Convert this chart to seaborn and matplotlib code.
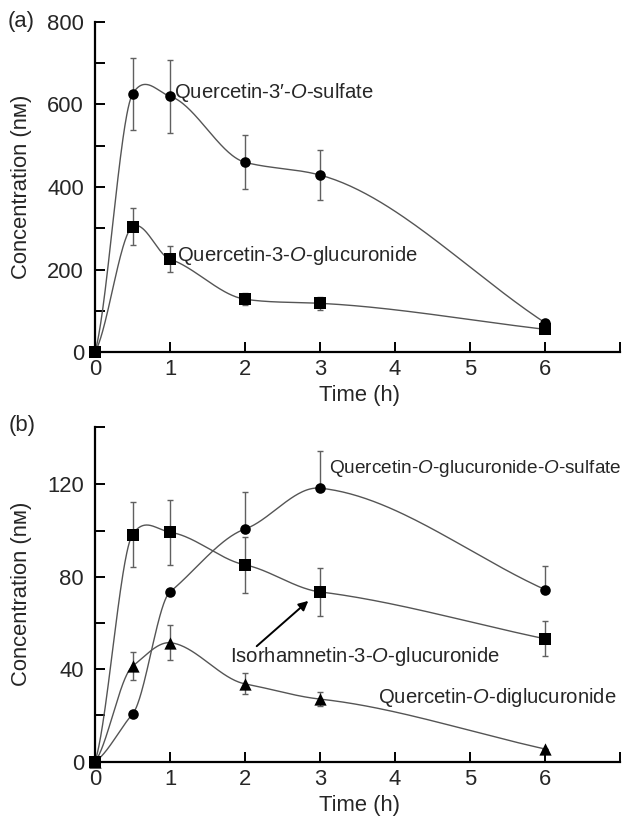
import numpy as np
import pandas as pd
import matplotlib
matplotlib.use("Agg")
import matplotlib.pyplot as plt
import seaborn as sns

# panel (a)
time_a = [0, 0.5, 1, 2, 3, 6]
sulfate = [0, 625, 620, 460, 429, 71]
sulfate_err = [0, 88, 88, 65, 61, 0]
glucuronide = [0, 304, 225, 128, 118, 55]
glucuronide_err = [0, 44, 32, 15, 15, 5]

# panel (b)
time_b = [0, 0.5, 1, 2, 3, 6]
gluc_sulf = [0, 20.6, 73.5, 100.7, 118.4, 74.5]
gluc_sulf_err_up = [0, 0, 0, 16, 16, 10]
isorham = [0, 98.3, 99.3, 85.2, 73.5, 53.2]
isorham_err = [0, 14, 14, 12, 10.5, 7.5]
digluc = [0, 41.3, 51.5, 33.7, 27.1, 5.5]
digluc_err = [0, 6, 7.5, 4.5, 3, 0]

x_ticks = [0, 1, 2, 3, 4, 5, 6, 7]
x_labels = ["0", "1", "2", "3", "4", "5", "6", ""]

sns.set_style("ticks")
plt.rcParams["font.family"] = ["Liberation Sans", "DejaVu Sans"]
plt.rcParams["mathtext.fontset"] = "custom"
plt.rcParams["mathtext.rm"] = "Liberation Sans"
plt.rcParams["mathtext.it"] = "Liberation Sans:italic"

FS = 15.8
FS_NOTE = 14.6
LINE = "#555555"


def smooth(x, y, tension=0.5, n=60):
    # cardinal spline through the measured points, for the connecting curve
    x = np.asarray(x, float)
    y = np.asarray(y, float)
    m = np.zeros_like(y)
    m[1:-1] = (1 - tension) * (y[2:] - y[:-2]) / (x[2:] - x[:-2])
    m[0] = (1 - tension) * (y[1] - y[0]) / (x[1] - x[0])
    m[-1] = (y[-1] - y[-2]) / (x[-1] - x[-2])
    xs, ys = [], []
    for i in range(len(x) - 1):
        h = x[i + 1] - x[i]
        t = np.linspace(0, 1, n)
        h00 = 2 * t**3 - 3 * t**2 + 1
        h10 = t**3 - 2 * t**2 + t
        h01 = -2 * t**3 + 3 * t**2
        h11 = t**3 - t**2
        xs.append(x[i] + t * h)
        ys.append(h00 * y[i] + h10 * h * m[i] + h01 * y[i + 1] + h11 * h * m[i + 1])
    return pd.DataFrame({"x": np.concatenate(xs), "y": np.concatenate(ys)})


def series(ax, x, y, yerr, marker, size):
    curve = smooth(x, y)
    sns.lineplot(data=curve, x="x", y="y", ax=ax, color=LINE, lw=1.0,
                 sort=False, estimator=None)
    ax.errorbar(x, y, yerr=yerr, fmt="none", ecolor="#606060", elinewidth=1.0,
                capsize=2.5, capthick=1.0, zorder=3)
    sns.scatterplot(x=x, y=y, ax=ax, marker=marker, s=size, color="black",
                    edgecolor="black", linewidth=0, zorder=4, clip_on=False)


def style(ax, ymax, major, minor):
    ax.set_xlim(0, 7)
    ax.set_ylim(0, ymax)
    ax.set_xticks(x_ticks)
    ax.set_xticklabels(x_labels)
    ax.set_yticks(major)
    ax.set_yticks(minor, minor=True)
    ax.tick_params(axis="both", which="both", direction="in", width=1.4,
                   length=7, labelsize=FS, color="black")
    ax.tick_params(axis="y", pad=8)
    ax.tick_params(axis="x", pad=5)
    sns.despine(ax=ax)
    for s in ["left", "bottom"]:
        ax.spines[s].set_linewidth(1.6)
        ax.spines[s].set_color("black")
    ax.set_xlabel("Time (h)", fontsize=FS)
    ax.set_ylabel("Concentration (nᴍ)", fontsize=FS)
    ax.xaxis.set_label_coords(0.503, -0.1)
    ax.yaxis.set_label_coords(-0.12, 0.5)


fig = plt.figure(figsize=(6.36, 8.17), dpi=100)
ax_a = fig.add_axes([95 / 636, 1 - 352 / 817, 525 / 636, 330 / 817])
ax_b = fig.add_axes([95 / 636, 1 - 761.7 / 817, 525 / 636, 335 / 817])

series(ax_a, time_a, sulfate, sulfate_err, "o", 58)
series(ax_a, time_a, glucuronide, glucuronide_err, "s", 64)
style(ax_a, 800, [0, 200, 400, 600, 800], [100, 300, 500, 700])
ax_a.text(1.05, 628, r"Quercetin-3′-$\mathit{O}$-sulfate", fontsize=FS_NOTE, va="center")
ax_a.text(1.09, 235, r"Quercetin-3-$\mathit{O}$-glucuronide", fontsize=FS_NOTE, va="center")

series(ax_b, time_b, gluc_sulf, [[0] * 6, gluc_sulf_err_up], "o", 58)
series(ax_b, time_b, isorham, isorham_err, "s", 64)
series(ax_b, time_b, digluc, digluc_err, "^", 78)
style(ax_b, 145, [0, 40, 80, 120], [20, 60, 100, 145])
ax_b.text(3.12, 126.8, r"Quercetin-$\mathit{O}$-glucuronide-$\mathit{O}$-sulfate",
          fontsize=13.7, va="center")
ax_b.text(1.8, 45.7, r"Isorhamnetin-3-$\mathit{O}$-glucuronide", fontsize=FS_NOTE, va="center")
ax_b.text(3.78, 27.6, r"Quercetin-$\mathit{O}$-diglucuronide", fontsize=FS_NOTE, va="center")
ax_b.annotate("", xy=(2.844, 69.6), xytext=(2.156, 50),
              arrowprops=dict(arrowstyle="-|>", color="black", lw=1.4,
                              mutation_scale=14, shrinkA=0, shrinkB=0))

fig.text(8 / 636, 1 - 22 / 817, "(a)", fontsize=FS, va="center")
fig.text(9 / 636, 1 - 425 / 817, "(b)", fontsize=FS, va="center")

fig.savefig("out.png", dpi=100)
